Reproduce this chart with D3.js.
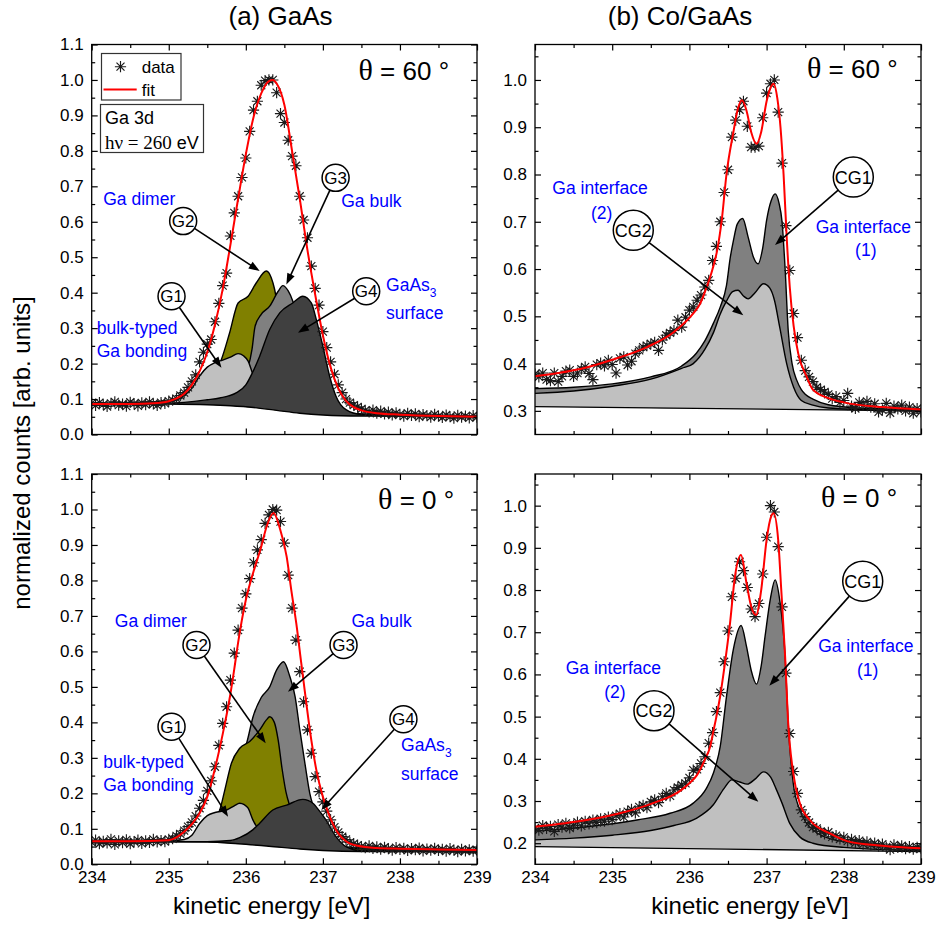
<!DOCTYPE html>
<html><head><meta charset="utf-8">
<script src="https://cdn.jsdelivr.net/npm/d3@7"></script>
<style>
body{margin:0;background:#fff}
svg{display:block}
text{font-family:"Liberation Sans",Arial,Helvetica,sans-serif}
</style>
</head><body>
<svg id="chart" width="936" height="927"></svg>
<script>
// ---------------- data ----------------
const energies = Array.from({length:101}, (_, i) => Math.round((234 + i*0.05)*100)/100);

const dataGaAs60 = [0.088,0.082,0.090,0.085,0.079,0.088,0.092,0.083,0.086,0.080,
0.091,0.087,0.081,0.089,0.084,0.092,0.086,0.082,0.090,0.088,
0.094,0.097,0.101,0.110,0.118,0.133,0.150,0.168,0.205,0.232,
0.255,0.268,0.318,0.370,0.420,0.455,0.560,0.625,0.672,0.725,
0.780,0.855,0.915,0.940,0.985,0.998,1.000,1.000,0.964,0.905,
0.880,0.830,0.785,0.758,0.672,0.605,0.555,0.475,0.412,0.365,
0.290,0.245,0.205,0.170,0.140,0.118,0.100,0.090,0.083,0.078,
0.072,0.068,0.064,0.069,0.060,0.066,0.058,0.063,0.055,0.061,
0.057,0.052,0.060,0.054,0.058,0.050,0.056,0.053,0.049,0.057,
0.052,0.048,0.055,0.050,0.046,0.054,0.049,0.052,0.047,0.053,
0.049];

const dataGaAs0 = [0.062,0.068,0.058,0.065,0.060,0.070,0.056,0.066,0.061,0.069,
0.058,0.064,0.068,0.059,0.066,0.062,0.070,0.063,0.067,0.064,
0.070,0.072,0.080,0.086,0.095,0.106,0.118,0.136,0.158,0.180,
0.207,0.235,0.275,0.335,0.397,0.444,0.519,0.595,0.660,0.722,
0.762,0.805,0.850,0.886,0.915,0.961,0.985,1.000,0.998,0.966,
0.905,0.815,0.722,0.632,0.543,0.458,0.379,0.313,0.247,0.205,
0.176,0.150,0.125,0.105,0.090,0.078,0.070,0.062,0.058,0.054,
0.050,0.047,0.052,0.045,0.049,0.043,0.048,0.044,0.040,0.047,
0.042,0.045,0.039,0.044,0.041,0.046,0.038,0.043,0.040,0.045,
0.039,0.042,0.037,0.044,0.040,0.036,0.042,0.038,0.041,0.037,
0.040];

const dataCo60 = [0.378,0.372,0.380,0.366,0.364,0.380,0.362,0.373,0.384,0.386,
0.373,0.380,0.388,0.393,0.379,0.366,0.398,0.401,0.395,0.407,
0.398,0.380,0.411,0.414,0.397,0.405,0.421,0.428,0.435,0.438,
0.442,0.445,0.428,0.450,0.460,0.465,0.470,0.492,0.477,0.498,
0.513,0.520,0.534,0.545,0.562,0.576,0.618,0.648,0.700,0.762,
0.810,0.879,0.915,0.937,0.955,0.902,0.858,0.858,0.860,0.920,
0.972,0.992,1.000,0.932,0.824,0.692,0.597,0.506,0.455,0.407,
0.385,0.372,0.362,0.350,0.345,0.340,0.335,0.326,0.330,0.318,
0.322,0.337,0.310,0.305,0.318,0.312,0.320,0.308,0.315,0.298,
0.302,0.316,0.296,0.310,0.304,0.312,0.300,0.308,0.295,0.305,
0.298];

const dataCo0 = [0.236,0.231,0.242,0.235,0.240,0.228,0.244,0.238,0.247,0.236,
0.243,0.250,0.241,0.252,0.246,0.255,0.249,0.258,0.252,0.262,
0.256,0.265,0.270,0.262,0.275,0.280,0.272,0.286,0.290,0.284,
0.298,0.303,0.296,0.310,0.318,0.312,0.326,0.332,0.338,0.342,
0.355,0.373,0.375,0.389,0.405,0.437,0.462,0.512,0.557,0.630,
0.703,0.784,0.828,0.867,0.846,0.806,0.755,0.737,0.768,0.838,
0.925,1.000,0.985,0.903,0.760,0.603,0.460,0.370,0.318,0.279,
0.263,0.249,0.238,0.235,0.228,0.222,0.226,0.215,0.218,0.210,
0.214,0.205,0.209,0.201,0.206,0.198,0.203,0.196,0.200,0.193,
0.198,0.191,0.185,0.196,0.190,0.194,0.187,0.192,0.186,0.190,
0.188];

// fit curves [energy, value]
const fitGaAs60 = [[234,0.086],[234.5,0.086],[234.8,0.088],[235,0.094],[235.1,0.102],[235.2,0.115],[235.3,0.14],[235.4,0.178],[235.5,0.232],[235.6,0.31],[235.7,0.41],[235.8,0.535],[235.9,0.665],[236,0.79],[236.1,0.895],[236.2,0.962],[236.3,0.997],[236.35,1.0],[236.4,0.99],[236.5,0.93],[236.6,0.80],[236.7,0.665],[236.8,0.52],[236.9,0.395],[237,0.28],[237.1,0.19],[237.2,0.13],[237.3,0.095],[237.4,0.077],[237.5,0.068],[237.7,0.06],[238,0.056],[238.5,0.052],[239,0.05]];
const fitGaAs0 = [[234,0.065],[234.5,0.065],[235,0.068],[235.1,0.076],[235.2,0.092],[235.3,0.113],[235.4,0.144],[235.5,0.19],[235.6,0.27],[235.7,0.367],[235.8,0.48],[235.85,0.55],[235.9,0.625],[236,0.745],[236.1,0.825],[236.2,0.895],[236.27,0.952],[236.36,0.99],[236.44,0.948],[236.53,0.867],[236.59,0.773],[236.655,0.679],[236.72,0.566],[236.785,0.454],[236.85,0.35],[236.915,0.266],[237,0.19],[237.09,0.134],[237.2,0.087],[237.3,0.065],[237.45,0.052],[237.7,0.046],[238,0.044],[238.5,0.042],[239,0.040]];
const fitCo60 = [[234,0.373],[234.3,0.38],[234.6,0.389],[235,0.408],[235.45,0.435],[235.8,0.467],[236.05,0.506],[236.14,0.527],[236.22,0.56],[236.3,0.6],[236.36,0.64],[236.42,0.705],[236.48,0.80],[236.57,0.89],[236.63,0.94],[236.68,0.957],[236.74,0.935],[236.8,0.89],[236.87,0.865],[236.93,0.89],[237,0.955],[237.05,0.983],[237.09,0.992],[237.14,0.96],[237.18,0.90],[237.22,0.80],[237.26,0.668],[237.3,0.562],[237.35,0.48],[237.41,0.421],[237.52,0.372],[237.6,0.345],[237.8,0.327],[238,0.318],[238.5,0.308],[239,0.303]];
const fitCo0 = [[234,0.239],[234.67,0.255],[235.1,0.271],[235.53,0.295],[235.88,0.324],[236,0.342],[236.1,0.362],[236.2,0.398],[236.27,0.43],[236.31,0.465],[236.35,0.5],[236.4,0.55],[236.46,0.626],[236.526,0.721],[236.59,0.832],[236.668,0.883],[236.74,0.816],[236.8,0.761],[236.863,0.741],[236.93,0.80],[237,0.919],[237.06,0.975],[237.09,0.982],[237.15,0.919],[237.19,0.80],[237.24,0.642],[237.28,0.484],[237.345,0.366],[237.43,0.295],[237.56,0.255],[237.82,0.223],[238.04,0.205],[238.5,0.194],[239,0.188]];

// backgrounds
const bgGaAs60 = [[234,0.087],[235,0.086],[235.5,0.084],[235.8,0.081],[236.1,0.076],[236.4,0.068],[236.7,0.06],[237,0.055],[237.5,0.052],[239,0.051]];
const bgGaAs0 = [[234,0.064],[235.5,0.063],[235.9,0.058],[236.3,0.051],[236.7,0.043],[237,0.039],[237.5,0.036],[239,0.035]];
const bgCo60 = [[234,0.309],[239,0.300]];
const bgCo0 = [[234,0.192],[239,0.180]];

// component tops (background + component), GaAs 60°
const g1GaAs60 = [[234,0.087],[235,0.092],[235.2,0.11],[235.3,0.13],[235.4,0.165],[235.5,0.19],[235.6,0.203],[235.7,0.21],[235.8,0.218],[235.9,0.228],[235.97,0.222],[236.03,0.207],[236.085,0.174],[236.15,0.14],[236.3,0.1],[236.5,0.075],[237,0.057],[239,0.051]];
const g2GaAs60 = [[234,0.087],[235.4,0.1],[235.6,0.17],[235.684,0.212],[235.79,0.287],[235.9,0.371],[236.03,0.39],[236.137,0.428],[236.267,0.461],[236.33,0.442],[236.374,0.409],[236.42,0.35],[236.5,0.25],[236.6,0.15],[236.8,0.08],[237,0.06],[239,0.051]];
const g3GaAs60 = [[234,0.087],[235.5,0.09],[235.8,0.12],[235.95,0.16],[236.03,0.19],[236.08,0.24],[236.12,0.305],[236.2,0.339],[236.31,0.362],[236.42,0.404],[236.48,0.42],[236.55,0.405],[236.61,0.376],[236.7,0.30],[236.8,0.2],[237,0.1],[237.3,0.06],[239,0.051]];
const g4GaAs60 = [[234,0.087],[235,0.088],[235.5,0.098],[235.66,0.103],[235.88,0.118],[236,0.14],[236.085,0.174],[236.18,0.221],[236.31,0.296],[236.44,0.343],[236.61,0.371],[236.74,0.39],[236.85,0.371],[236.915,0.324],[237,0.249],[237.087,0.165],[237.17,0.108],[237.3,0.07],[237.5,0.056],[238,0.052],[239,0.051]];
// GaAs 0°
const g1GaAs0 = [[234,0.064],[235,0.066],[235.2,0.07],[235.3,0.082],[235.4,0.115],[235.5,0.137],[235.6,0.146],[235.75,0.153],[235.85,0.165],[235.92,0.172],[235.98,0.168],[236.03,0.158],[236.09,0.126],[236.16,0.1],[236.3,0.075],[236.6,0.055],[237,0.042],[239,0.035]];
const g2GaAs0 = [[234,0.064],[235.3,0.066],[235.5,0.1],[235.6,0.13],[235.662,0.153],[235.727,0.209],[235.813,0.285],[235.921,0.327],[236.05,0.346],[236.18,0.379],[236.267,0.407],[236.31,0.416],[236.37,0.40],[236.42,0.35],[236.47,0.27],[236.52,0.205],[236.57,0.165],[236.65,0.12],[236.8,0.08],[237,0.05],[239,0.035]];
const g3GaAs0 = [[234,0.064],[235.5,0.07],[235.7,0.1],[235.85,0.22],[235.95,0.305],[236.01,0.341],[236.094,0.416],[236.2,0.47],[236.31,0.50],[236.4,0.548],[236.49,0.571],[236.57,0.53],[236.64,0.472],[236.7,0.38],[236.77,0.28],[236.83,0.2],[236.88,0.16],[237,0.1],[237.2,0.05],[239,0.035]];
const g4GaAs0 = [[234,0.064],[235.5,0.064],[235.8,0.067],[235.92,0.075],[236.09,0.097],[236.18,0.116],[236.35,0.153],[236.53,0.167],[236.74,0.183],[236.87,0.172],[236.95,0.152],[237.04,0.125],[237.17,0.078],[237.3,0.05],[237.5,0.038],[239,0.035]];
// Co/GaAs 60°
const cg1Co60 = [[234,0.347],[234.5,0.35],[235,0.357],[235.5,0.372],[235.9,0.395],[236.09,0.422],[236.2,0.448],[236.31,0.485],[236.4,0.52],[236.48,0.565],[236.53,0.625],[236.57,0.66],[236.62,0.695],[236.69,0.707],[236.76,0.668],[236.83,0.625],[236.89,0.611],[236.95,0.645],[237,0.703],[237.06,0.745],[237.11,0.759],[237.16,0.74],[237.2,0.70],[237.24,0.60],[237.28,0.47],[237.33,0.40],[237.39,0.365],[237.45,0.345],[237.5,0.335],[237.6,0.325],[237.8,0.313],[238.2,0.306],[239,0.302]];
const cg2Co60 = [[234,0.337],[234.5,0.342],[235,0.352],[235.5,0.367],[235.9,0.39],[236.05,0.40],[236.2,0.43],[236.31,0.465],[236.4,0.505],[236.48,0.532],[236.56,0.552],[236.63,0.555],[236.7,0.543],[236.76,0.537],[236.85,0.55],[236.96,0.569],[237.04,0.56],[237.1,0.535],[237.17,0.477],[237.26,0.40],[237.35,0.35],[237.45,0.322],[237.6,0.312],[237.8,0.306],[238.2,0.303],[239,0.30]];
// Co/GaAs 0°
const cg1Co0 = [[234,0.229],[234.67,0.239],[235.32,0.255],[235.75,0.271],[236.05,0.295],[236.22,0.33],[236.31,0.366],[236.4,0.43],[236.48,0.547],[236.57,0.66],[236.67,0.716],[236.74,0.666],[236.8,0.61],[236.87,0.577],[236.93,0.62],[236.98,0.69],[237.05,0.78],[237.11,0.824],[237.17,0.776],[237.24,0.642],[237.28,0.484],[237.345,0.342],[237.43,0.279],[237.52,0.247],[237.6,0.232],[237.8,0.212],[238.2,0.199],[239,0.19]];
const cg2Co0 = [[234,0.208],[234.5,0.212],[235,0.219],[235.5,0.23],[235.8,0.242],[236.09,0.259],[236.31,0.291],[236.45,0.33],[236.55,0.35],[236.65,0.345],[236.75,0.34],[236.85,0.352],[236.96,0.369],[237.05,0.357],[237.12,0.33],[237.2,0.295],[237.3,0.247],[237.43,0.215],[237.6,0.2],[238,0.19],[239,0.182]];

// ticks
const xTicks = [234,235,236,237,238,239];
const xMinor = [234.5,235.5,236.5,237.5,238.5];
const yTicksGaAs = [0,0.1,0.2,0.3,0.4,0.5,0.6,0.7,0.8,0.9,1.0,1.1];
const yMinorGaAs = [0.05,0.15,0.25,0.35,0.45,0.55,0.65,0.75,0.85,0.95,1.05];
const yTicksCo60 = [0.3,0.4,0.5,0.6,0.7,0.8,0.9,1.0];
const yMinorCo60 = [0.35,0.45,0.55,0.65,0.75,0.85,0.95,1.05];
const yTicksCo0 = [0.2,0.3,0.4,0.5,0.6,0.7,0.8,0.9,1.0];
const yMinorCo0 = [0.25,0.35,0.45,0.55,0.65,0.75,0.85,0.95,1.05];

// ---------------- drawing ----------------
const svg = d3.select('#chart');
const defs = svg.append('defs');
const fmt = d3.format('.1f');
const BLUE = '#0000ff';

function starPath(px, py) {
  const r = 5.6, a = 4.0;
  return `M${px-r},${py}H${px+r}M${px},${py-r}V${py+r}M${px-a},${py-a}L${px+a},${py+a}M${px-a},${py+a}L${px+a},${py-a}`;
}

function callout(g, x, y, c) {
  const r = c.name.length > 2 ? 20 : 13.5;
  const cx = x(c.at[0]), cy = y(c.at[1]), tx = x(c.tip[0]), ty = y(c.tip[1]);
  const dx = tx - cx, dy = ty - cy, L = Math.hypot(dx, dy), ux = dx / L, uy = dy / L;
  const hl = 11, hw = 4;
  const bx = tx - ux * hl, by = ty - uy * hl;
  g.append('line').attr('x1', cx + ux * r).attr('y1', cy + uy * r)
    .attr('x2', bx + ux * 2).attr('y2', by + uy * 2)
    .attr('stroke', '#000').attr('stroke-width', 1.6);
  g.append('path').attr('d', `M${tx},${ty}L${bx - uy * hw},${by + ux * hw}L${bx + uy * hw},${by - ux * hw}Z`).attr('fill', '#000');
  g.append('circle').attr('cx', cx).attr('cy', cy).attr('r', r)
    .attr('fill', '#fff').attr('stroke', '#000').attr('stroke-width', 1.5);
  g.append('text').attr('x', cx).attr('y', cy).attr('dy', '0.36em').attr('text-anchor', 'middle')
    .attr('font-size', r > 15 ? 18 : 17).attr('fill', '#000').text(c.name);
}

function blueLabel(g, x, y, l) {
  const t = g.append('text').attr('x', x(l.at[0])).attr('y', y(l.at[1])).attr('dy', '0.36em')
    .attr('fill', BLUE).attr('font-size', 17.5).attr('text-anchor', l.anchor || 'start');
  t.append('tspan').text(l.text);
  if (l.sub) t.append('tspan').attr('font-size', 12).attr('dy', 6).text(l.sub);
}

function drawPanel(cfg) {
  const x = d3.scaleLinear().domain([234, 239]).range([cfg.x0, cfg.x1]);
  const y = d3.scaleLinear().domain(cfg.yDomain).range([cfg.y1, cfg.y0]);
  const g = svg.append('g');
  defs.append('clipPath').attr('id', 'clip-' + cfg.id).append('rect')
    .attr('x', cfg.x0).attr('y', cfg.y0).attr('width', cfg.x1 - cfg.x0).attr('height', cfg.y1 - cfg.y0);
  const plot = g.append('g').attr('clip-path', `url(#clip-${cfg.id})`);

  const bgI = d3.scaleLinear().domain(cfg.bg.map(d => d[0])).range(cfg.bg.map(d => d[1]));
  const line = d3.line().x(d => x(d[0])).y(d => y(d[1])).curve(d3.curveMonotoneX);
  const area = d3.area().x(d => x(d[0])).y0(d => y(bgI(d[0]))).y1(d => y(d[1])).curve(d3.curveMonotoneX);

  cfg.comps.forEach(c => {
    plot.append('path').datum(c.pts).attr('d', area).attr('fill', c.color).attr('stroke', 'none');
    plot.append('path').datum(c.pts).attr('d', line).attr('fill', 'none').attr('stroke', '#000').attr('stroke-width', 1.4);
  });
  plot.append('path').datum(cfg.bg).attr('d', d3.line().x(d => x(d[0])).y(d => y(d[1])).curve(d3.curveMonotoneX))
    .attr('fill', 'none').attr('stroke', '#000').attr('stroke-width', 1.4);

  // data stars
  plot.append('path').attr('d', cfg.data.map((v, i) => starPath(x(energies[i]), y(v))).join(''))
    .attr('fill', 'none').attr('stroke', '#1a1a1a').attr('stroke-width', 1.15);
  // fit
  plot.append('path').datum(cfg.fit).attr('d', line).attr('fill', 'none').attr('stroke', '#ff0000').attr('stroke-width', 2);

  // annotations
  cfg.labels.forEach(l => blueLabel(g, x, y, l));
  cfg.callouts.forEach(c => callout(g, x, y, c));
  const th = g.append('text').attr('x', x(cfg.theta.at[0])).attr('y', y(cfg.theta.at[1])).attr('dy', '0.36em')
    .attr('text-anchor', 'middle').attr('font-size', 26).attr('fill', '#000');
  th.append('tspan').attr('font-family', '"Liberation Serif","Times New Roman",serif').attr('font-size', 30).text('θ');
  th.append('tspan').text(' = ' + cfg.theta.text + ' °');

  // axes (inward ticks)
  const styleAxis = sel => {
    sel.select('.domain').remove();
    sel.selectAll('line').attr('stroke', '#000').attr('stroke-width', 1.2);
    sel.selectAll('text').attr('font-size', 17).attr('fill', '#000').attr('font-family', '"Liberation Sans",Arial,sans-serif');
  };
  g.append('g').attr('transform', `translate(${cfg.x0},0)`)
    .call(d3.axisLeft(y).tickValues(cfg.yTicks).tickFormat(fmt).tickSize(-6).tickPadding(8)).call(styleAxis);
  g.append('g').attr('transform', `translate(${cfg.x0},0)`)
    .call(d3.axisLeft(y).tickValues(cfg.yMinor).tickFormat('').tickSize(-3.5)).call(styleAxis);
  g.append('g').attr('transform', `translate(${cfg.x1},0)`)
    .call(d3.axisRight(y).tickValues(cfg.yTicks).tickFormat('').tickSize(-6)).call(styleAxis);
  g.append('g').attr('transform', `translate(${cfg.x1},0)`)
    .call(d3.axisRight(y).tickValues(cfg.yMinor).tickFormat('').tickSize(-3.5)).call(styleAxis);
  g.append('g').attr('transform', `translate(0,${cfg.y1})`)
    .call(d3.axisBottom(x).tickValues(xTicks).tickFormat(cfg.xLabels ? d3.format('d') : '').tickSize(-6).tickPadding(7)).call(styleAxis);
  g.append('g').attr('transform', `translate(0,${cfg.y1})`)
    .call(d3.axisBottom(x).tickValues(xMinor).tickFormat('').tickSize(-3.5)).call(styleAxis);
  g.append('g').attr('transform', `translate(0,${cfg.y0})`)
    .call(d3.axisTop(x).tickValues(xTicks).tickFormat('').tickSize(-6)).call(styleAxis);
  g.append('g').attr('transform', `translate(0,${cfg.y0})`)
    .call(d3.axisTop(x).tickValues(xMinor).tickFormat('').tickSize(-3.5)).call(styleAxis);

  g.append('rect').attr('x', cfg.x0).attr('y', cfg.y0).attr('width', cfg.x1 - cfg.x0).attr('height', cfg.y1 - cfg.y0)
    .attr('fill', 'none').attr('stroke', '#000').attr('stroke-width', 1.3);
  return {x, y, g};
}

const OLIVE = '#808000', GRAY = '#808080', LIGHT = '#c0c0c0', DARK = '#404040';

drawPanel({
  id: 'a60', x0: 91.7, x1: 477, y0: 44.5, y1: 434.5, yDomain: [0, 1.1],
  yTicks: yTicksGaAs, yMinor: yMinorGaAs, xLabels: false,
  data: dataGaAs60, fit: fitGaAs60, bg: bgGaAs60,
  comps: [{pts: g2GaAs60, color: OLIVE}, {pts: g3GaAs60, color: GRAY}, {pts: g1GaAs60, color: LIGHT}, {pts: g4GaAs60, color: DARK}],
  theta: {text: '60', at: [238.05, 1.025]},
  labels: [
    {text: 'Ga dimer', at: [234.15, 0.666]},
    {text: 'Ga bulk', at: [237.238, 0.66]},
    {text: 'GaAs', sub: '3', at: [237.82, 0.423]},
    {text: 'surface', at: [237.82, 0.344]},
    {text: 'bulk-typed', at: [234.065, 0.302]},
    {text: 'Ga bonding', at: [234.065, 0.235]}
  ],
  callouts: [
    {name: 'G1', at: [235.036, 0.39], tip: [235.684, 0.188]},
    {name: 'G2', at: [235.187, 0.602], tip: [236.18, 0.461]},
    {name: 'G3', at: [237.165, 0.724], tip: [236.526, 0.423]},
    {name: 'G4', at: [237.562, 0.404], tip: [236.676, 0.287]}
  ]
});

drawPanel({
  id: 'b60', x0: 535, x1: 921, y0: 44.5, y1: 434.5, yDomain: [0.25, 1.075],
  yTicks: yTicksCo60, yMinor: yMinorCo60, xLabels: false,
  data: dataCo60, fit: fitCo60, bg: bgCo60,
  comps: [{pts: cg1Co60, color: GRAY}, {pts: cg2Co60, color: LIGHT}],
  theta: {text: '60', at: [238.11, 1.024]},
  labels: [
    {text: 'Ga interface', at: [234.842, 0.773], anchor: 'middle'},
    {text: '(2)', at: [234.864, 0.72], anchor: 'middle'},
    {text: 'Ga interface', at: [238.253, 0.689], anchor: 'middle'},
    {text: '(1)', at: [238.285, 0.64], anchor: 'middle'}
  ],
  callouts: [
    {name: 'CG2', at: [235.273, 0.682], tip: [236.698, 0.502]},
    {name: 'CG1', at: [238.123, 0.7945], tip: [237.109, 0.651]}
  ]
});

drawPanel({
  id: 'a0', x0: 91.7, x1: 477, y0: 474, y1: 864.3, yDomain: [0, 1.1],
  yTicks: yTicksGaAs, yMinor: yMinorGaAs, xLabels: true,
  data: dataGaAs0, fit: fitGaAs0, bg: bgGaAs0,
  comps: [{pts: g3GaAs0, color: GRAY}, {pts: g2GaAs0, color: OLIVE}, {pts: g1GaAs0, color: LIGHT}, {pts: g4GaAs0, color: DARK}],
  theta: {text: '0', at: [238.21, 1.027]},
  labels: [
    {text: 'Ga dimer', at: [234.30, 0.687]},
    {text: 'Ga bulk', at: [237.37, 0.687]},
    {text: 'GaAs', sub: '3', at: [238.015, 0.336]},
    {text: 'surface', at: [238.015, 0.255]},
    {text: 'bulk-typed', at: [234.15, 0.289]},
    {text: 'Ga bonding', at: [234.15, 0.2235]}
  ],
  callouts: [
    {name: 'G1', at: [235.036, 0.388], tip: [235.77, 0.134]},
    {name: 'G2', at: [235.36, 0.618], tip: [236.258, 0.341]},
    {name: 'G3', at: [237.268, 0.618], tip: [236.547, 0.486]},
    {name: 'G4', at: [238.045, 0.409], tip: [236.98, 0.153]}
  ]
});

drawPanel({
  id: 'b0', x0: 535, x1: 921, y0: 474, y1: 864.3, yDomain: [0.15, 1.075],
  yTicks: yTicksCo0, yMinor: yMinorCo0, xLabels: true,
  data: dataCo0, fit: fitCo0, bg: bgCo0,
  comps: [{pts: cg1Co0, color: GRAY}, {pts: cg2Co0, color: LIGHT}],
  theta: {text: '0', at: [238.197, 1.019]},
  labels: [
    {text: 'Ga interface', at: [238.285, 0.667], anchor: 'middle'},
    {text: '(1)', at: [238.31, 0.611], anchor: 'middle'},
    {text: 'Ga interface', at: [235.015, 0.617], anchor: 'middle'},
    {text: '(2)', at: [235.035, 0.559], anchor: 'middle'}
  ],
  callouts: [
    {name: 'CG1', at: [238.245, 0.821], tip: [237.035, 0.573]},
    {name: 'CG2', at: [235.541, 0.514], tip: [236.893, 0.298]}
  ]
});

// legend (top-left panel)
const lg = svg.append('g');
lg.append('rect').attr('x', 101.5).attr('y', 53.5).attr('width', 79.5).attr('height', 46.5)
  .attr('fill', '#fff').attr('stroke', '#333').attr('stroke-width', 1.2);
lg.append('path').attr('d', starPath(120.5, 66.7)).attr('stroke', '#1a1a1a').attr('stroke-width', 1.15).attr('fill', 'none');
lg.append('text').attr('x', 141.7).attr('y', 66.7).attr('dy', '0.36em').attr('font-size', 17).text('data');
lg.append('line').attr('x1', 103.5).attr('x2', 136.7).attr('y1', 89.5).attr('y2', 89.5).attr('stroke', '#ff0000').attr('stroke-width', 2);
lg.append('text').attr('x', 141.7).attr('y', 89.5).attr('dy', '0.36em').attr('font-size', 17).text('fit');
lg.append('rect').attr('x', 100.5).attr('y', 104.5).attr('width', 103).attr('height', 48)
  .attr('fill', '#fff').attr('stroke', '#333').attr('stroke-width', 1.2);
lg.append('text').attr('x', 105).attr('y', 118).attr('dy', '0.36em').attr('font-size', 18).text('Ga 3d');
const hv = lg.append('text').attr('x', 105).attr('y', 143).attr('dy', '0.36em').attr('font-size', 18);
hv.append('tspan').attr('font-family', '"Liberation Serif","Times New Roman",serif').attr('font-size', 19).text('hν = 260');
hv.append('tspan').text(' eV');

// titles
svg.append('text').attr('x', 280.5).attr('y', 25).attr('text-anchor', 'middle').attr('font-size', 26).text('(a) GaAs');
svg.append('text').attr('x', 680).attr('y', 25).attr('text-anchor', 'middle').attr('font-size', 26).text('(b) Co/GaAs');
svg.append('text').attr('x', 271.7).attr('y', 914).attr('text-anchor', 'middle').attr('font-size', 24).text('kinetic energy [eV]');
svg.append('text').attr('x', 750).attr('y', 914).attr('text-anchor', 'middle').attr('font-size', 24).text('kinetic energy [eV]');
svg.append('text').attr('transform', 'translate(30,453) rotate(-90)').attr('text-anchor', 'middle').attr('font-size', 24).text('normalized counts [arb. units]');
</script>
</body></html>
